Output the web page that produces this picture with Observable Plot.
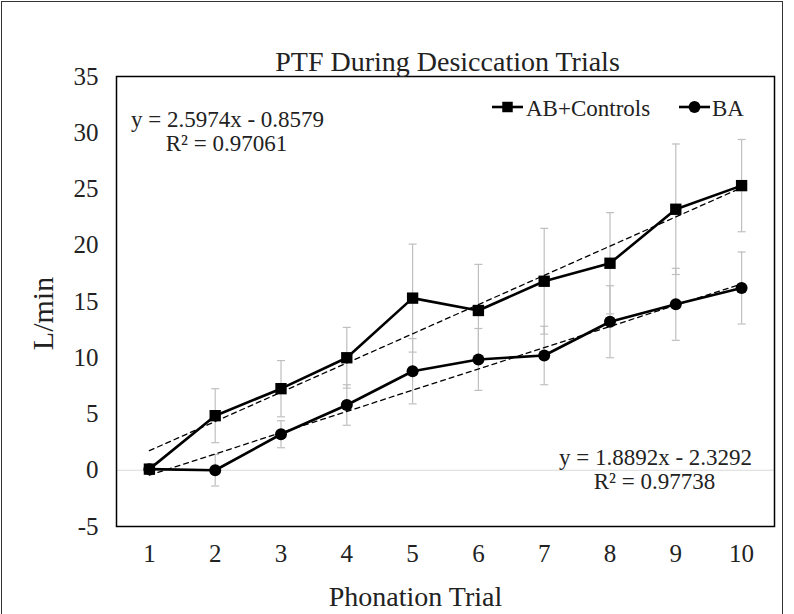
<!DOCTYPE html>
<html>
<head>
<meta charset="utf-8">
<script src="https://cdn.jsdelivr.net/npm/d3@7"></script>
<script src="https://cdn.jsdelivr.net/npm/@observablehq/plot@0.6"></script>
<style>
  html, body { margin: 0; padding: 0; background: #fff; overflow: hidden; }
  #wrap { position: relative; width: 794px; height: 614px; }
  #border { position: absolute; left: 1px; top: 1px; width: 780px; height: 640px; border: 1px solid #333; pointer-events: none; }
  #legend { position: absolute; left: 0; top: 0; pointer-events: none; }
</style>
</head>
<body>
<div id="wrap"><div id="border"></div></div>
<script>
// ---- data ----
const trials = [1, 2, 3, 4, 5, 6, 7, 8, 9, 10];
const seriesNames = ["AB+Controls", "BA"];
const abControls = [0.1, 4.85, 7.25, 10.0, 15.3, 14.2, 16.8, 18.4, 23.2, 25.3];
const abError    = [0, 2.4, 2.5, 2.7, 4.8, 4.1, 4.7, 4.5, 5.8, 4.1];
const ba         = [0.1, 0.0, 3.2, 5.8, 8.8, 9.85, 10.2, 13.2, 14.75, 16.2];
const baError    = [0, 1.4, 1.2, 1.8, 2.9, 2.75, 2.6, 3.2, 3.2, 3.2];
const trendSlopes     = [2.5974, 1.8892];
const trendIntercepts = [-0.8579, -2.3292];
const trendEquations = ["y = 2.5974x - 0.8579", "y = 1.8892x - 2.3292"];
const trendR2 = ["R² = 0.97061", "R² = 0.97738"];
const yTicks = [-5, 0, 5, 10, 15, 20, 25, 30, 35];
const title = "PTF During Desiccation Trials";
const xLabel = "Phonation Trial";
const yLabel = "L/min";

// ---- tables ----
const valuesBySeries = [abControls, ba];
const errorsBySeries = [abError, baError];
const rows = [];
seriesNames.forEach((s, si) => trials.forEach((t, i) => rows.push({
  series: s, trial: t, value: valuesBySeries[si][i], err: errorsBySeries[si][i]
})));
const errRows = rows.filter(d => d.err > 0);
const caps = errRows.flatMap(d => [{trial: d.trial, y: d.value - d.err}, {trial: d.trial, y: d.value + d.err}]);
const trendRows = seriesNames.flatMap((s, si) => [trials[0], trials[trials.length - 1]].map(t => ({
  series: s, trial: t, value: trendSlopes[si] * t + trendIntercepts[si]
})));

const serif = "'Liberation Serif', 'Times New Roman', Times, serif";
const capSymbol = {
  draw(ctx, size) { const r = Math.sqrt(size / Math.PI); ctx.moveTo(-r, 0); ctx.lineTo(r, 0); }
};
const txt = (s, o) => Plot.text([s], { text: d => d, fill: "#222", ...o });

const chart = Plot.plot({
  width: 794,
  height: 614,
  marginLeft: 116,
  marginRight: 20,
  marginTop: 76,
  marginBottom: 88,
  style: { fontFamily: serif, fontSize: "25px", background: "transparent", color: "#222" },
  x: { domain: [0.5, 10.5], ticks: trials, tickSize: 0, tickPadding: 18, label: null, tickFormat: d => String(d) },
  y: { domain: [-5, 35], ticks: yTicks, tickSize: 0, tickPadding: 18, label: null, tickFormat: d => d < 0 ? "-" + Math.abs(d) : String(d) },
  marks: [
    Plot.ruleY([0], { stroke: "#d9d9d9", strokeWidth: 1 }),
    Plot.ruleX(errRows, { x: "trial", y1: d => d.value - d.err, y2: d => d.value + d.err, stroke: "#bfbfbf", strokeWidth: 1.2 }),
    Plot.dot(caps, { x: "trial", y: "y", symbol: capSymbol, r: 4, fill: "none", stroke: "#bfbfbf", strokeWidth: 1.2 }),
    Plot.line(trendRows, { x: "trial", y: "value", z: "series", stroke: "#000", strokeWidth: 1.3, strokeDasharray: "5,4" }),
    Plot.line(rows, { x: "trial", y: "value", z: "series", stroke: "#000", strokeWidth: 2.6 }),
    Plot.dot(rows.filter(d => d.series === seriesNames[0]), { x: "trial", y: "value", symbol: "square", r: 6.4, fill: "#000", stroke: "none" }),
    Plot.dot(rows.filter(d => d.series === seriesNames[1]), { x: "trial", y: "value", symbol: "circle", r: 6, fill: "#000", stroke: "none" }),
    Plot.frame({ stroke: "#000", strokeWidth: 1.5 }),
    txt(title, { frameAnchor: "top", lineAnchor: "bottom", dy: -6, dx: 2, fontSize: 28 }),
    txt(xLabel, { frameAnchor: "bottom", lineAnchor: "top", dy: 60, dx: -30, fontSize: 28 }),
    txt(yLabel, { frameAnchor: "left", rotate: -90, textAnchor: "middle", lineAnchor: "middle", dx: -73, dy: 12, fontSize: 30 }),
    txt(trendEquations[0], { frameAnchor: "top-left", textAnchor: "middle", lineAnchor: "middle", dx: 111, dy: 43, fontSize: 23 }),
    txt(trendR2[0], { frameAnchor: "top-left", textAnchor: "middle", lineAnchor: "middle", dx: 110, dy: 67, fontSize: 23 }),
    txt(trendEquations[1], { frameAnchor: "bottom-right", textAnchor: "middle", lineAnchor: "middle", dx: -119, dy: -69, fontSize: 23 }),
    txt(trendR2[1], { frameAnchor: "bottom-right", textAnchor: "middle", lineAnchor: "middle", dx: -120, dy: -44.5, fontSize: 23 })
  ]
});
document.getElementById("wrap").appendChild(chart);

// ---- legend overlay ----
const leg = d3.select("#wrap").append("svg").attr("id", "legend").attr("width", 794).attr("height", 614);
const legendItems = [
  { name: seriesNames[0], symbol: d3.symbolSquare, size: 110, x0: 492, x1: 523, tx: 526 },
  { name: seriesNames[1], symbol: d3.symbolCircle, size: 110, x0: 679, x1: 710, tx: 712 }
];
const ly = 107;
legendItems.forEach(it => {
  leg.append("line").attr("x1", it.x0).attr("x2", it.x1).attr("y1", ly).attr("y2", ly).attr("stroke", "#000").attr("stroke-width", 2.6);
  leg.append("path").attr("d", d3.symbol(it.symbol, it.size)()).attr("transform", `translate(${(it.x0 + it.x1) / 2},${ly})`).attr("fill", "#000");
  leg.append("text").attr("x", it.tx).attr("y", ly + 9).attr("font-family", serif).attr("font-size", 23).attr("fill", "#222").text(it.name);
});
</script>
</body>
</html>
